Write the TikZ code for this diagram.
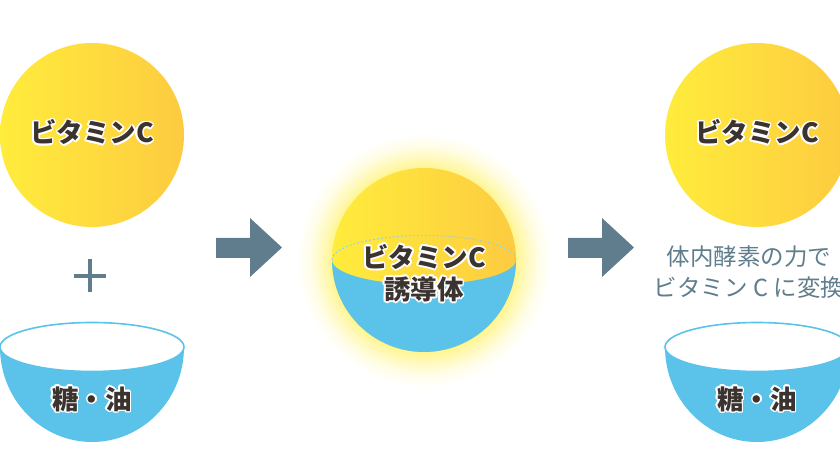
\documentclass[tikz,border=0pt]{standalone}
\usepackage{fontspec}
\usepackage{contour}
\usetikzlibrary{calc}
\newfontfamily\jp{Noto Sans CJK JP}
\definecolor{lemon}{RGB}{255, 236, 60}
\definecolor{amber}{RGB}{253, 203, 64}
\definecolor{sky}{RGB}{91, 195, 234}
\definecolor{slate}{RGB}{95, 125, 140}
\definecolor{ink}{RGB}{59, 51, 48}
\definecolor{halo}{RGB}{255, 245, 140}
\definecolor{rimdash}{RGB}{150, 210, 230}
\contourlength{1.6pt}
\pgfdeclareradialshading{haloglow}{\pgfpoint{0bp}{0bp}}{color(0bp)=(halo); color(17.5bp)=(halo); color(19.5bp)=(halo!60); color(22bp)=(halo!20); color(24.5bp)=(white); color(50bp)=(white)}
\newcommand{\lbl}[1]{\contour{white}{#1}}

\begin{document}
\begin{tikzpicture}[x=1pt, y=1pt,
  boldlbl/.style={font=\jp\bfseries\fontsize{26.5}{32}\selectfont, text=ink, inner sep=0pt, align=center},
  notelbl/.style={font=\jp\fontsize{23.5}{31}\selectfont, text=slate, inner sep=0pt, align=center},
  ball/.style={left color=lemon, right color=amber},
  blockarrow/.style={fill=slate}]

  \useasboundingbox (0, 0) rectangle (840, 473);
  \clip (0, 0) rectangle (840, 473);

  % vitamin C balls and bowls
  \foreach \bx in {92, 757} {
    \shade[ball] (\bx, 338) circle (92);
    \fill[sky] (\bx-92, 126) arc (180:360:92 and 95) -- cycle;
    \filldraw[fill=white, draw=sky, line width=1.6pt] (\bx, 126) ellipse (92 and 24.5);
  }
  \node[boldlbl] (vitL) at (92, 340) {\lbl{ビタミンC}};
  \node[boldlbl] (vitR) at (757, 340) {\lbl{ビタミンC}};
  \node[boldlbl] (oilL) at (92, 73) {\lbl{糖・油}};
  \node[boldlbl] (oilR) at (757, 73) {\lbl{糖・油}};

  % plus
  \draw[slate, line width=3.5pt] (74, 197) -- (106, 197) (90, 181) -- (90, 214);

  % arrows
  \foreach \ax in {216, 568} {
    \fill[blockarrow, shift={(\ax, 0)}] (0, 215) -- (34, 215) -- (34, 196) -- (66, 225.5)
      -- (34, 255) -- (34, 235) -- (0, 235) -- cycle;
  }

  % derivative sphere with glow
  \shade[shading=haloglow] (424, 213) circle (130);
  \shade[ball] (424, 213) circle (92);
  \fill[sky] (332, 213) arc (180:360:92 and 24.5) arc (0:-180:92) -- cycle;
  \draw[rimdash, line width=1pt, dash pattern=on 2pt off 2pt] (332, 213) arc (180:0:92 and 24.5);
  \node[boldlbl] (deriv) at (424, 199) {\lbl{ビタミンC}\\\lbl{誘導体}};

  % note
  \node[notelbl] (note) at (749, 200.5) {体内酵素の力で\\ビタミン C に変換};

\end{tikzpicture}
\end{document}
